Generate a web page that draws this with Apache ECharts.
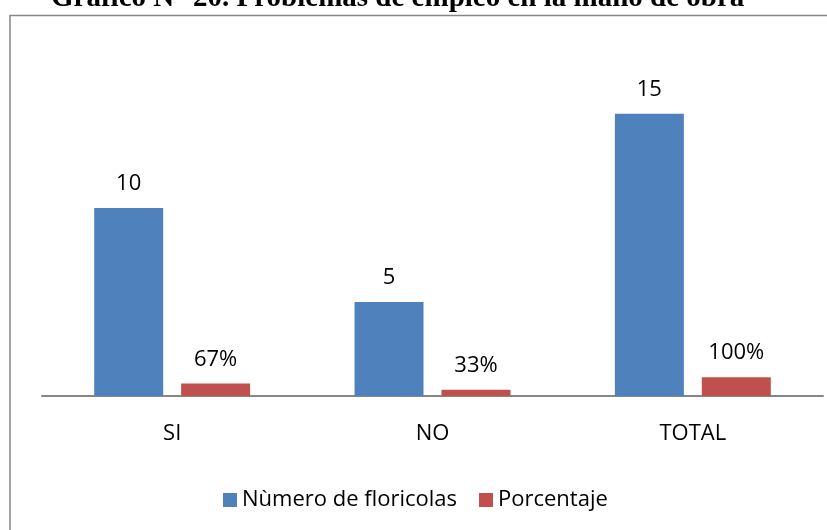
<!DOCTYPE html>
<html>
<head>
<meta charset="utf-8">
<script src="https://cdn.jsdelivr.net/npm/echarts@6/dist/echarts.min.js"></script>
<style>html,body{margin:0;padding:0;background:#fff;}#c{width:827px;height:530px;}</style>
</head>
<body>
<div id="c"></div>
<script>
const titleText = 'Gráfico N° 20. Problemas de empleo en la mano de obra';
const categories = ['SI', 'NO', 'TOTAL'];
const seriesNames = ['Nùmero de floricolas', 'Porcentaje'];
const floricolas = [10, 5, 15];
const porcentaje = [0.67, 0.33, 1.0];

const chart = echarts.init(document.getElementById('c'), null, {renderer: 'canvas'});
const font = 'Open Sans';
chart.setOption({
  backgroundColor: '#fff',
  animation: false,
  title: {
    text: titleText,
    left: 51,
    top: -16,
    padding: 0,
    textStyle: {fontFamily: 'Liberation Serif', fontWeight: 'bold', fontSize: 29, color: '#000'}
  },
  graphic: [{
    type: 'rect', shape: {x: 10, y: 15.5, width: 840, height: 540},
    style: {fill: 'none', stroke: '#868686', lineWidth: 1.5}, silent: true, z: -1
  }],
  grid: {left: 42, right: 4, top: 95, bottom: 134},
  xAxis: {
    type: 'category', data: categories,
    axisLine: {lineStyle: {color: '#868686', width: 2}},
    axisTick: {show: false},
    axisLabel: {margin: 27, fontFamily: font, fontSize: 22, color: '#000'}
  },
  yAxis: {type: 'value', min: 0, max: 16, show: false, splitLine: {show: false}},
  legend: {
    data: seriesNames, left: 218, top: 484, itemWidth: 14, itemHeight: 14, itemGap: 22,
    icon: 'rect',
    textStyle: {fontFamily: font, fontSize: 22, color: '#000'}
  },
  series: [
    {name: seriesNames[0], type: 'bar', data: floricolas, barWidth: 69, barGap: '26%',
     itemStyle: {color: '#4F81BD'},
     label: {show: true, position: 'top', distance: 13, fontFamily: font, fontSize: 22, color: '#000'}},
    {name: seriesNames[1], type: 'bar', data: porcentaje, barWidth: 69,
     itemStyle: {color: '#C0504D'},
     label: {show: true, position: 'top', distance: 13, fontFamily: font, fontSize: 22, color: '#000',
       formatter: p => Math.round(p.value * 100) + '%'}}
  ]
});
</script>
</body>
</html>
